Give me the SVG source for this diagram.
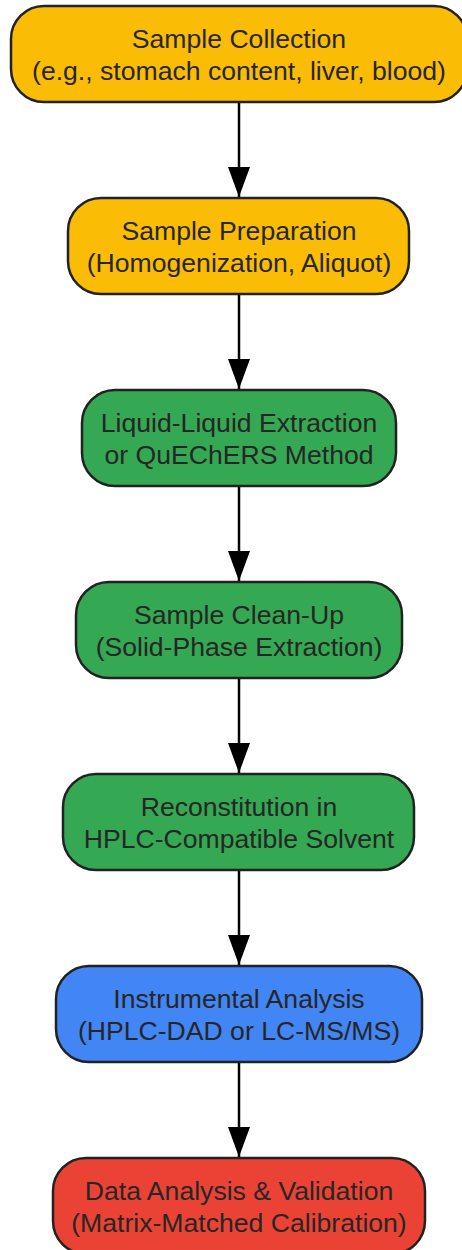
<svg xmlns="http://www.w3.org/2000/svg" width="462" height="1250" viewBox="0 0 462 1250">
<style>
.n{stroke:#222;stroke-width:2.5}
.y{fill:#FBBC05}.g{fill:#34A853}.b{fill:#4285F4}.r{fill:#EA4335}
.t{font-family:"Liberation Sans",Arial,sans-serif;font-size:26.6px;fill:#262626;text-anchor:middle}
.e{stroke:#000;stroke-width:2.5;fill:none}
</style>
<defs>
<marker id="ah" markerUnits="userSpaceOnUse" markerWidth="30" markerHeight="22" refX="30" refY="11" orient="auto">
<path d="M0,0 L30,11 L0,22 Z" fill="#000"/>
</marker>
</defs>
<rect width="462" height="1250" fill="#fff"/>
<g id="connectors">
<line class="e" x1="239" y1="102" x2="239" y2="197" marker-end="url(#ah)"/>
<line class="e" x1="239" y1="294" x2="239" y2="389" marker-end="url(#ah)"/>
<line class="e" x1="239" y1="486" x2="239" y2="581" marker-end="url(#ah)"/>
<line class="e" x1="239" y1="678" x2="239" y2="773" marker-end="url(#ah)"/>
<line class="e" x1="239" y1="870" x2="239" y2="965" marker-end="url(#ah)"/>
<line class="e" x1="239" y1="1062" x2="239" y2="1157" marker-end="url(#ah)"/>
</g>
<g id="n1">
<rect class="n y" x="11" y="6" width="456" height="96" rx="33"/>
<text class="t" x="239" y="47.5">Sample Collection</text>
<text class="t" x="239" y="79.5">(e.g., stomach content, liver, blood)</text>
</g>
<g id="n2">
<rect class="n y" x="68" y="198" width="341" height="96" rx="33"/>
<text class="t" x="239" y="239.5">Sample Preparation</text>
<text class="t" x="239" y="271.5">(Homogenization, Aliquot)</text>
</g>
<g id="n3">
<rect class="n g" x="82" y="390" width="314" height="96" rx="33"/>
<text class="t" x="239" y="431.5">Liquid-Liquid Extraction</text>
<text class="t" x="239" y="463.5">or QuEChERS Method</text>
</g>
<g id="n4">
<rect class="n g" x="76" y="582" width="326" height="96" rx="33"/>
<text class="t" x="239" y="623.5">Sample Clean-Up</text>
<text class="t" x="239" y="655.5">(Solid-Phase Extraction)</text>
</g>
<g id="n5">
<rect class="n g" x="63" y="774" width="351" height="96" rx="33"/>
<text class="t" x="239" y="815.5">Reconstitution in</text>
<text class="t" x="239" y="847.5">HPLC-Compatible Solvent</text>
</g>
<g id="n6">
<rect class="n b" x="56" y="966" width="366" height="96" rx="33"/>
<text class="t" x="239" y="1007.5">Instrumental Analysis</text>
<text class="t" x="239" y="1039.5">(HPLC-DAD or LC-MS/MS)</text>
</g>
<g id="n7">
<rect class="n r" x="53" y="1158" width="372" height="96" rx="33"/>
<text class="t" x="239" y="1199.5">Data Analysis &amp; Validation</text>
<text class="t" x="239" y="1231.5">(Matrix-Matched Calibration)</text>
</g>
</svg>
